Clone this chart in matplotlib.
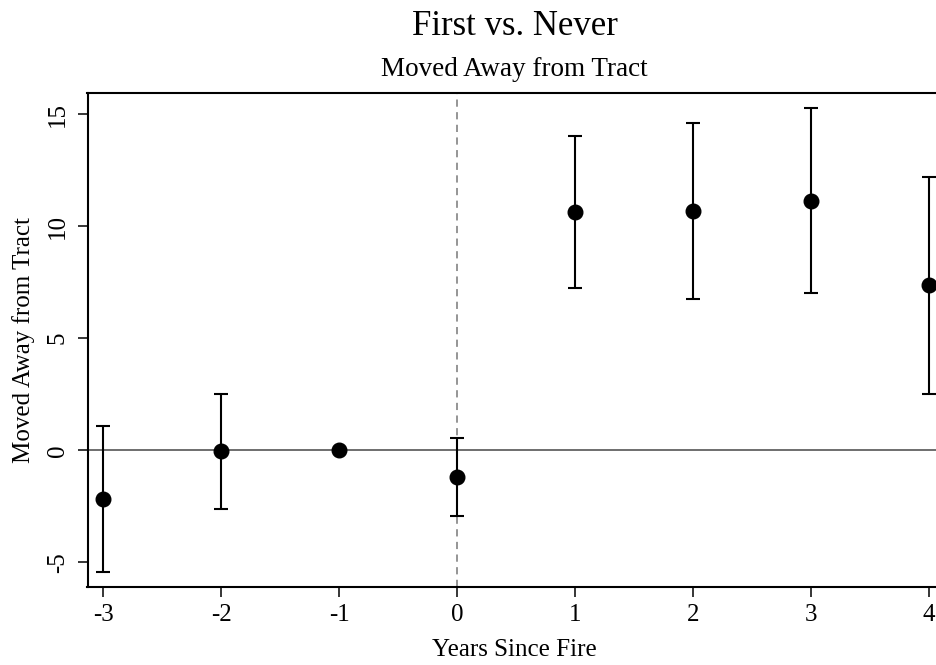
import matplotlib
matplotlib.use("Agg")
import matplotlib.pyplot as plt
import numpy as np

# Event-study estimates: years relative to fire, point estimates and 95% CI bounds
years = [-3, -2, -1, 0, 1, 2, 3, 4]
estimates = [-2.19, -0.03, 0.0, -1.19, 10.61, 10.68, 11.13, 7.37]
ci_lower = [-5.42, -2.60, 0.0, -2.95, 7.22, 6.73, 7.02, 2.51]
ci_upper = [1.07, 2.53, 0.0, 0.55, 14.02, 14.61, 15.27, 12.17]

x_ticks = [-3, -2, -1, 0, 1, 2, 3, 4]
y_ticks = [-5, 0, 5, 10, 15]

plt.rcParams["font.family"] = ["Liberation Serif", "DejaVu Serif"]

W, H = 936, 665
fig = plt.figure(figsize=(W / 100, H / 100), dpi=100)
left_px, right_px, top_px, bottom_px = 87.5, 942, 92.5, 587
ax = fig.add_axes([left_px / W, (H - bottom_px) / H,
                   (right_px - left_px) / W, (bottom_px - top_px) / H])

est = np.array(estimates)
yerr = np.vstack([est - np.array(ci_lower), np.array(ci_upper) - est])

ax.axhline(0, color="#555555", lw=1.2, zorder=1)
ax.axvline(0, color="#8c8c8c", lw=1.3, ls=(0, (4, 3)), zorder=1)
ax.errorbar(years, est, yerr=yerr, fmt="o", color="black", ms=10.5,
            elinewidth=1.5, capsize=4.8, capthick=1.5, zorder=3)

ax.set_xlim(-3.134, 4.11)
ax.set_ylim(-6.1, 15.96)
ax.set_xticks(x_ticks)
ax.set_xticklabels([str(t) for t in x_ticks])
ax.set_yticks(y_ticks)
ax.set_yticklabels([str(t) for t in y_ticks], rotation=90, va="center")

for s in ax.spines.values():
    s.set_linewidth(1.5)
ax.spines["right"].set_visible(False)

ax.tick_params(axis="both", direction="out", length=7.5, width=1.1,
               labelsize=18, pad=5)
ax.tick_params(axis="y", pad=6)

ax.set_ylabel("Moved Away from Tract", fontsize=18)
ax.yaxis.set_label_coords(-(left_px - 35) / (right_px - left_px), 0.5)

cx = ((left_px + right_px) / 2) / W
fig.text(cx, 1 - 35 / H, "First vs. Never", ha="center", va="baseline",
         fontsize=25)
fig.text(cx, 1 - 76 / H, "Moved Away from Tract", ha="center",
         va="baseline", fontsize=19.5)
fig.text(cx, 1 - 656 / H, "Years Since Fire", ha="center", va="baseline",
         fontsize=18)

fig.savefig("out.png", dpi=100)
